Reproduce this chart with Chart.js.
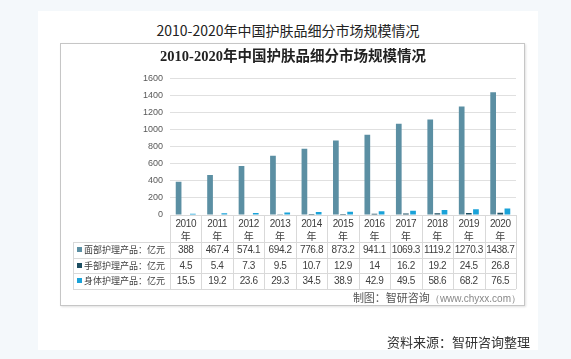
<!DOCTYPE html>
<html>
<head>
<meta charset="utf-8">
<script src="https://cdn.jsdelivr.net/npm/chart.js@4.4.1/dist/chart.umd.min.js"></script>
<style>
  html,body{margin:0;padding:0;}
  body{width:571px;height:359px;background:#f4f8fb;position:relative;overflow:hidden;font-family:"Noto Sans CJK SC","Liberation Sans",sans-serif;}
  #panel{position:absolute;left:38px;top:11px;width:500px;height:339px;background:#fff;}
  #box{position:absolute;left:60px;top:43px;width:465px;height:263px;border:1px solid #c6c6c6;box-sizing:border-box;background:#fff;box-shadow:1px 1px 2px rgba(0,0,0,0.12);}
  #outerTitle{position:absolute;left:38px;width:500px;top:21px;text-align:center;font-size:14px;color:#222;line-height:18px;}
  #source{position:absolute;right:41px;top:333px;font-size:13px;color:#333;line-height:18px;}
  #credit{position:absolute;right:50px;top:289px;font-size:11px;color:#555;line-height:16px;white-space:nowrap;}
  #credit span{font-family:"Liberation Sans",sans-serif;font-size:10px;color:#888;}
  canvas{position:absolute;left:0;top:0;}
  #tbl{position:absolute;left:0;top:0;}
  .ln{position:absolute;background:#d9d9d9;}
  .cell{position:absolute;text-align:center;font-family:"Liberation Sans",sans-serif;font-size:10px;letter-spacing:-0.4px;color:#404040;white-space:nowrap;}
  .lab{position:absolute;font-size:9px;color:#404040;white-space:nowrap;font-family:"Noto Sans CJK SC",sans-serif;}
  .mk{display:inline-block;width:5px;height:5px;margin-right:2px;vertical-align:1px;}
</style>
</head>
<body>
<div id="panel"></div>
<div id="outerTitle">2010-2020年中国护肤品细分市场规模情况</div>
<div id="box"></div>
<canvas id="c" width="571" height="359"></canvas>
<div id="tbl"></div>
<div id="credit">制图：智研咨询<span>（www.chyxx.com）</span></div>
<div id="source">资料来源：智研咨询整理</div>
<script>
const years = ['2010','2011','2012','2013','2014','2015','2016','2017','2018','2019','2020'];
const yearSuffix = '年';
const seriesNames = ['面部护理产品：亿元','手部护理产品：亿元','身体护理产品：亿元'];
const faceCare = [388,467.4,574.1,694.2,776.8,873.2,941.1,1069.3,1119.2,1270.3,1438.7];
const handCare = [4.5,5.4,7.3,9.5,10.7,12.9,14,16.2,19.2,24.5,26.8];
const bodyCare = [15.5,19.2,23.6,29.3,34.5,38.9,42.9,49.5,58.6,68.2,76.5];
const yMin = 0, yMax = 1600, yStep = 200;
const chartTitle = '2010-2020年中国护肤品细分市场规模情况';

const colors = ['#5b8fa3','#1c4e62','#1aa2d8'];
const seriesData = [faceCare, handCare, bodyCare];

const chart = new Chart(document.getElementById('c'), {
  type: 'bar',
  data: {
    labels: years,
    datasets: seriesNames.map((n,i)=>({
      label: n, data: seriesData[i], backgroundColor: colors[i], borderWidth: 0,
      categoryPercentage: 0.68, barPercentage: 0.8
    }))
  },
  options: {
    responsive: false,
    animation: false,
    devicePixelRatio: 1,
    layout: { padding: { left: 70, right: 55, top: 40, bottom: 144 } },
    plugins: {
      legend: { display: false },
      tooltip: { enabled: false },
      title: {
        display: true, text: chartTitle, color: '#222',
        font: { family: '"Liberation Serif","Noto Sans CJK SC",serif', size: 14.5, weight: 'bold' },
        padding: { top: 9, bottom: 12 }
      }
    },
    scales: {
      x: {
        ticks: { display: false },
        grid: { display: false, drawTicks: false },
        border: { display: true, color: '#d9d9d9' },
        afterFit: s => { s.height = 0; }
      },
      y: {
        min: yMin, max: yMax,
        ticks: { stepSize: yStep, color: '#595959', padding: 7,
          callback: v => String(v),
          font: { family: '"Liberation Sans",sans-serif', size: 9 } },
        grid: { color: '#e0e0e0', drawTicks: false },
        border: { display: false },
        afterFit: s => { s.width = 100; }
      }
    }
  }
});

(function buildTable(){
  const tbl = document.getElementById('tbl');
  const xs = chart.scales.x;
  const area = chart.chartArea;
  const n = years.length;
  const w = (area.right - area.left) / n;
  const top = area.bottom;
  const hdrH = 27, rowH = 15.5;
  const labLeft = 73;
  const bottom = top + hdrH + rowH * 3;
  function line(x,y,wd,ht){ const d=document.createElement('div'); d.className='ln';
    d.style.left=x+'px'; d.style.top=y+'px'; d.style.width=wd+'px'; d.style.height=ht+'px'; tbl.appendChild(d); }
  for (let r=0;r<=3;r++){ line(labLeft, top+hdrH+r*rowH, area.right-labLeft, 1); }
  for (let k=0;k<=n;k++){ line(Math.round(area.left + k*w), top, 1, bottom-top); }
  line(labLeft, top+hdrH, 1, rowH*3);
  years.forEach((y,i)=>{
    const cx = xs.getPixelForValue(i);
    const d=document.createElement('div'); d.className='cell';
    d.style.left=(cx-w/2)+'px'; d.style.width=w+'px'; d.style.top=(top+3)+'px';
    d.style.lineHeight='11.5px';
    d.innerHTML = y + '<br><span style="font-family:\'Noto Sans CJK SC\';font-size:10px;letter-spacing:0">' + yearSuffix + '</span>';
    tbl.appendChild(d);
  });
  seriesNames.forEach((nm,r)=>{
    const ry = top + hdrH + r*rowH;
    const lab=document.createElement('div'); lab.className='lab';
    lab.style.left=(labLeft+4)+'px'; lab.style.top=ry+'px'; lab.style.lineHeight=rowH+'px';
    lab.innerHTML='<span class="mk" style="background:'+colors[r]+'"></span>'+nm;
    tbl.appendChild(lab);
    seriesData[r].forEach((v,i)=>{
      const cx = xs.getPixelForValue(i);
      const d=document.createElement('div'); d.className='cell';
      d.style.left=(cx-w/2)+'px'; d.style.width=w+'px'; d.style.top=ry+'px'; d.style.lineHeight=rowH+'px';
      d.textContent=String(v);
      tbl.appendChild(d);
    });
  });
})();
</script>
</body>
</html>
